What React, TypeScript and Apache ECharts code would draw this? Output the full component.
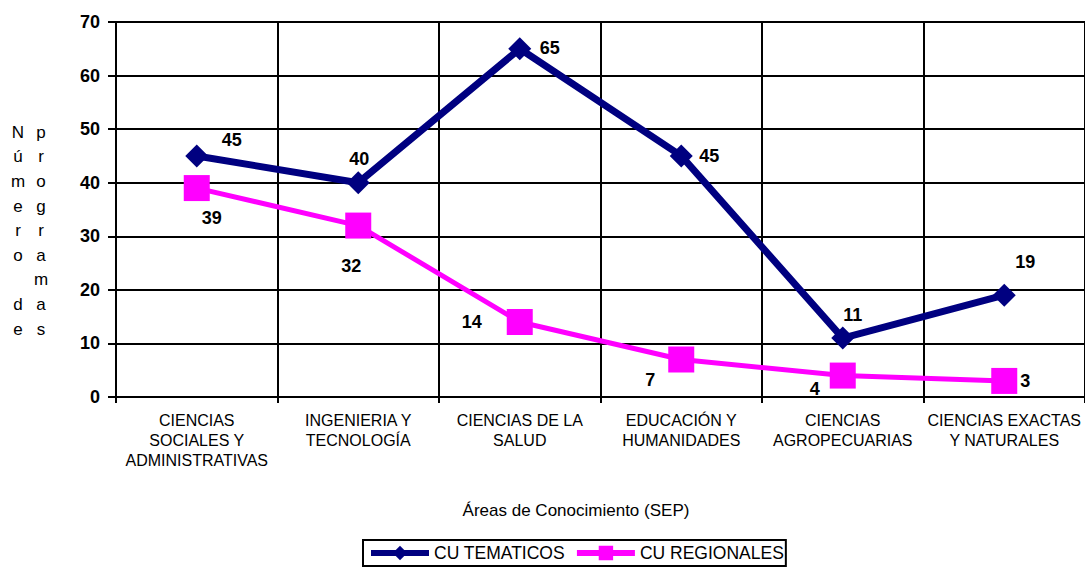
import React, { useEffect, useRef } from "react";
import * as echarts from "echarts";

const categories = [
  "CIENCIAS\nSOCIALES Y\nADMINISTRATIVAS",
  "INGENIERIA Y\nTECNOLOGÍA",
  "CIENCIAS DE LA\nSALUD",
  "EDUCACIÓN Y\nHUMANIDADES",
  "CIENCIAS\nAGROPECUARIAS",
  "CIENCIAS EXACTAS\nY NATURALES",
];
const tematicos = [45, 40, 65, 45, 11, 19];
const regionales = [39, 32, 14, 7, 4, 3];
const seriesNames = ["CU TEMATICOS", "CU REGIONALES"];
const xTitle = "Áreas de Conocimiento (SEP)";
const yTitleLeft = ["N", "ú", "m", "e", "r", "o", " ", "d", "e"];
const yTitleRight = ["p", "r", "o", "g", "r", "a", "m", "a", "s"];

const tematicosOffsets = [
  [35, -16],
  [1, -24],
  [30, -1],
  [28, 0],
  [10, -23],
  [21, -33],
];
const regionalesOffsets = [
  [15, 30],
  [-7, 40],
  [-48, 0],
  [-31, 20],
  [-28, 13],
  [21, 0],
];

const FONT = "Liberation Sans, Arial, sans-serif";

export default function App() {
  const ref = useRef<HTMLDivElement>(null);
  useEffect(() => {
    if (!ref.current) return;
    const chart = echarts.init(ref.current, undefined, { renderer: "svg" });
    const labelStyle = {
      show: true,
      position: "inside",
      fontFamily: FONT,
      fontSize: 18,
      fontWeight: "bold",
      color: "#000",
    };
    const mk = (vals: number[], offs: number[][]) =>
      vals.map((v, i) => ({
        value: v,
        label: { ...labelStyle, offset: offs[i] },
      }));
    chart.setOption({
      animation: false,
      backgroundColor: "#fff",
      textStyle: { fontFamily: FONT },
      grid: { left: 116, top: 22, width: 972, height: 375, containLabel: false },
      xAxis: {
        type: "category",
        data: categories,
        boundaryGap: true,
        axisLine: { show: true, lineStyle: { color: "#000", width: 2 } },
        axisTick: { show: true, length: 6, lineStyle: { color: "#000", width: 2 } },
        splitLine: { show: true, lineStyle: { color: "#000", width: 2 } },
        axisLabel: {
          interval: 0,
          margin: 13,
          fontFamily: FONT,
          fontSize: 16,
          lineHeight: 20,
          color: "#000",
        },
      },
      yAxis: {
        type: "value",
        min: 0,
        max: 70,
        interval: 10,
        axisLine: { show: true, lineStyle: { color: "#000", width: 2 } },
        axisTick: { show: true, length: 8, lineStyle: { color: "#000", width: 2 } },
        splitLine: { show: true, lineStyle: { color: "#000", width: 2 } },
        axisLabel: {
          margin: 16,
          fontFamily: FONT,
          fontSize: 18,
          fontWeight: "bold",
          color: "#000",
        },
      },
      legend: {
        left: 363,
        top: 540,
        padding: [4, 2, 4, 5],
        itemWidth: 58,
        itemHeight: 18,
        itemGap: 9,
        itemTextGap: 2,
        lineStyle: { width: 6 },
        borderColor: "#000",
        borderWidth: 2,
        textStyle: { fontFamily: FONT, fontSize: 17.5, color: "#000" },
        data: seriesNames,
      },
      graphic: [
        {
          type: "text",
          x: 576,
          y: 510,
          style: {
            text: xTitle,
            font: `17px ${FONT}`,
            fill: "#000",
            align: "center",
            verticalAlign: "middle",
          },
        },
        {
          type: "text",
          x: 18,
          y: 120,
          style: {
            text: yTitleLeft.join("\n"),
            font: `17px ${FONT}`,
            fill: "#000",
            align: "center",
            lineHeight: 24.6,
          },
        },
        {
          type: "text",
          x: 41,
          y: 120,
          style: {
            text: yTitleRight.join("\n"),
            font: `17px ${FONT}`,
            fill: "#000",
            align: "center",
            lineHeight: 24.6,
          },
        },
      ],
      series: [
        {
          name: seriesNames[0],
          type: "line",
          data: mk(tematicos, tematicosOffsets),
          symbol: "diamond",
          symbolSize: 23,
          lineStyle: { color: "#000080", width: 7 },
          itemStyle: { color: "#000080" },
          z: 3,
        },
        {
          name: seriesNames[1],
          type: "line",
          data: mk(regionales, regionalesOffsets),
          symbol: "rect",
          symbolSize: 26,
          lineStyle: { color: "#FF00FF", width: 5 },
          itemStyle: { color: "#FF00FF" },
          z: 4,
        },
      ],
    });
    return () => chart.dispose();
  }, []);
  return (
    <div
      ref={ref}
      style={{ position: "fixed", left: 0, top: 0, width: 1085, height: 567 }}
    />
  );
}
